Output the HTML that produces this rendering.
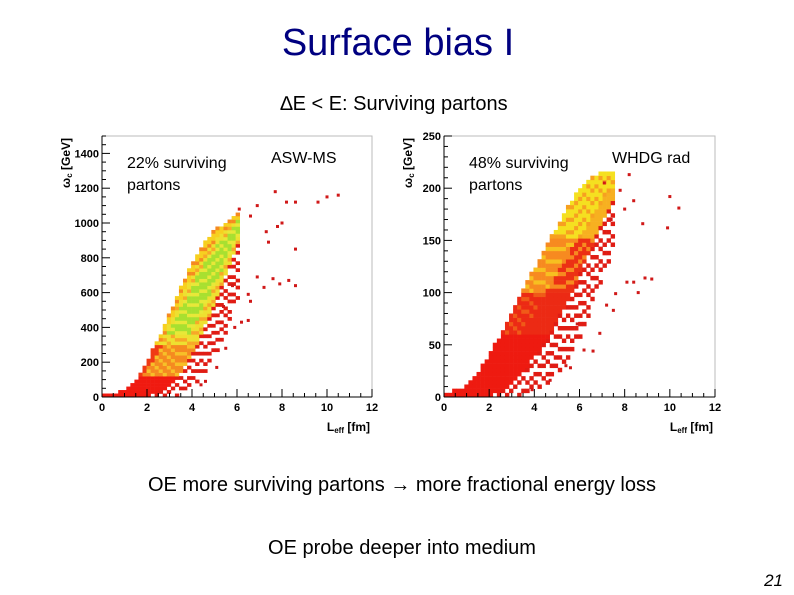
<!DOCTYPE html>
<html><head><meta charset="utf-8"><style>
body{margin:0;background:#fff;width:794px;height:595px;overflow:hidden;font-family:"Liberation Sans",Arial,sans-serif}
svg{display:block}
</style></head><body>
<svg id="s" width="794" height="595" xmlns="http://www.w3.org/2000/svg">
<text x="398" y="55" text-anchor="middle" font-size="38" fill="#000080">Surface bias I</text>
<text x="394" y="110" text-anchor="middle" font-size="20" fill="#000">∆E &lt; E: Surviving partons</text>
<text x="402" y="491" text-anchor="middle" font-size="20" fill="#000">OE more surviving partons → more fractional energy loss</text>
<text x="402" y="554" text-anchor="middle" font-size="20" fill="#000">OE probe deeper into medium</text>
<text x="783" y="586" text-anchor="end" font-size="17" font-style="italic" fill="#000">21</text>
<g id="p1"></g>
<g id="p2"></g>
</svg>
<script>
// ASW-MS band data (x in fm, y in GeV)
const bandX1 = [0,0.5,1,1.5,2,2.5,3,3.5,4,4.5,5,5.5,6];
const bandLo1 = [0,0,0,0,0,20,60,150,260,400,560,720,900];
const bandHi1 = [10,15,40,100,220,350,500,650,790,890,960,1000,1050];
const sparseLo1 = [0,0,0,0,0,0,0,30,80,150,250,400,600];
const outX1 = [7.7,8.2,8.6,9.6,10,10.5,6.9,8,7.8,7.3,7.4,8.6,7.6,7.9,8.3,8.6,7.2,6.9,6.5,6.6,6.5,5.5,5.9,6.2,5.1,4.6,4.4,6.1,6.6,5.4,5.8];
const outY1 = [1180,1120,1120,1120,1150,1160,1100,1000,980,950,890,850,680,650,670,640,630,690,590,550,440,280,400,430,170,90,70,1080,1040,520,640];
// WHDG rad band data
const bandX2 = [0,1,1.5,2,2.5,3,3.5,4,4.5,5,5.5,6,6.5,7,7.5];
const bandLo2 = [0,0,0,0,5,12,25,38,55,75,95,120,145,170,190];
const bandHi2 = [2,10,25,42,62,85,105,125,145,165,185,200,210,215,215];
const sparseLo2 = [0,0,0,0,0,0,3,8,15,25,40,60,90,120,150];
const outX2 = [10,10.4,9.9,8.8,8.4,9.2,8.9,8.6,8.1,7.6,7.2,7.5,6.9,6.6,5.6,4.7,5.4,3.9,8.2,8.4,7.8,7.1,8.0,7.4,6.2,5.9];
const outY2 = [192,181,162,166,110,113,114,100,110,99,88,83,61,44,28,16,30,7,213,188,198,205,180,170,45,70];

const NS="http://www.w3.org/2000/svg";
function el(t,a,p){const e=document.createElementNS(NS,t);for(const k in a)e.setAttribute(k,a[k]);p.appendChild(e);return e;}
function interp(xs,ys,x){if(x<=xs[0])return ys[0];for(let i=1;i<xs.length;i++){if(x<=xs[i]){const t=(x-xs[i-1])/(xs[i]-xs[i-1]);return ys[i-1]+t*(ys[i]-ys[i-1]);}}return ys[ys.length-1];}

function plot(g,cfg){
  const X=v=>cfg.x0+(v/12)*(cfg.x1-cfg.x0);
  const Y=v=>cfg.y0-(v/cfg.ymax)*(cfg.y0-cfg.yTop);
  const f=el('rect',{x:cfg.x0,y:cfg.yTop,width:cfg.x1-cfg.x0,height:cfg.y0-cfg.yTop,fill:'none',stroke:'#bbb','stroke-width':1},g);
  
  const dx=0.18, dy=cfg.cellY;
  const xmax=cfg.bx[cfg.bx.length-1];
  let i=0;
  for(let x=0;x<=xmax;x+=dx,i++){
    const lo=interp(cfg.bx,cfg.lo,x), hi=interp(cfg.bx,cfg.hi,x), slo=interp(cfg.bx,cfg.slo,x);
    let j=0;
    for(let y=Math.floor(slo/dy)*dy;y<hi;y+=dy,j++){
      let c;
      if(y<lo){ if(((i*7+j*3)%5)>1) continue; c='#e01c14'; }
      else c=cfg.color(x,y,(y-lo)/Math.max(hi-lo,1),i,j);
      const r=el('rect',{x:X(x),y:Y(y+dy),width:X(dx)-X(0)+0.3,height:Y(0)-Y(dy)+0.3,fill:c},g);
      
    }
  }
  for(let k=0;k<cfg.ox.length;k++){
    const r=el('rect',{x:X(cfg.ox[k])-1.5,y:Y(cfg.oy[k])-1.5,width:3,height:3,fill:'#d01818'},g);
    
  }
  el('line',{x1:cfg.x0,y1:cfg.y0,x2:cfg.x1,y2:cfg.y0,stroke:'#000'},g);
  el('line',{x1:cfg.x0,y1:cfg.y0,x2:cfg.x0,y2:cfg.yTop,stroke:'#000'},g);
  for(let v=0;v<=12;v+=0.5){const l=v%2===0?8:4;el('line',{x1:X(v),y1:cfg.y0,x2:X(v),y2:cfg.y0-l,stroke:'#000'},g);}
  for(let v=0;v<=12;v+=2){const t=el('text',{x:X(v),y:cfg.y0+14,'text-anchor':'middle','font-size':11,'font-weight':'bold'},g);t.textContent=v;}
  for(let v=0;v<=cfg.ymax;v+=cfg.minor){const l=(v%cfg.major===0)?8:4;el('line',{x1:cfg.x0,y1:Y(v),x2:cfg.x0+l,y2:Y(v),stroke:'#000'},g);}
  for(let v=0;v<=cfg.ymax;v+=cfg.major){const t=el('text',{x:cfg.x0-3,y:Y(v)+4,'text-anchor':'end','font-size':11,'font-weight':'bold'},g);t.textContent=v;}
  const xt=el('text',{x:cfg.x1-2,y:cfg.y0+34,'text-anchor':'end','font-size':12,'font-weight':'bold'},g);
  xt.innerHTML='L<tspan font-size="8" dy="2">eff</tspan><tspan dy="-2"> [fm]</tspan>';
  
  const yt=el('text',{x:0,y:0,'text-anchor':'end','font-size':12,'font-weight':'bold',transform:`translate(${cfg.x0-32},${cfg.yTop+2}) rotate(-90)`},g);
  yt.innerHTML='ω<tspan font-size="8" dy="2">c</tspan><tspan dy="-2"> [GeV]</tspan>';
  
  cfg.labels.forEach(([tx,x,y,name])=>{const t=el('text',{x:x,y:y,'font-size':16},g);t.textContent=tx;});
}

plot(document.getElementById('p1'),{x0:102,x1:372,y0:397,yTop:136,ymax:1500,major:200,minor:50,cellY:20,
  bx:bandX1,lo:bandLo1,hi:bandHi1,slo:sparseLo1,ox:outX1,oy:outY1,labels:[['22% surviving',127,168,'annotation-surviving'],['partons',127,190,'annotation-surviving'],['ASW-MS',271,163,'model-label']],
  color:(x,y,t,i,j)=>{const p=(i+j)%3;
    if(y<120)return '#f01a10';
    if(y<300)return t>0.75?'#f03a14':(p===0?'#f7c028':'#f58a20');
    if(t>0.85)return p===0?'#f58a20':'#f7d020';
    if(t>0.25&&t<0.75&&y>350)return p===0?'#e8e838':'#a8e030';
    return p===1?'#f7a828':'#eee030';}});
plot(document.getElementById('p2'),{x0:444,x1:715,y0:397,yTop:136,ymax:250,major:50,minor:10,cellY:4,
  bx:bandX2,lo:bandLo2,hi:bandHi2,slo:sparseLo2,ox:outX2,oy:outY2,labels:[['48% surviving',469,168,'annotation-surviving'],['partons',469,190,'annotation-surviving'],['WHDG rad',612,163,'model-label']],
  color:(x,y,t,i,j)=>{const p=(i+j)%3;
    if(y<60)return '#ee1a10';
    if(y<100)return t>0.5&&p===0?'#f05a18':'#ec2a14';
    if(y<150)return t>0.5?(p===0?'#f7c020':'#f78a20'):(p===0?'#f78a20':'#ec3014');
    return t>0.4?(p===0?'#f7a020':'#f5e020'):'#f7b020';}});
</script>
</body></html>
